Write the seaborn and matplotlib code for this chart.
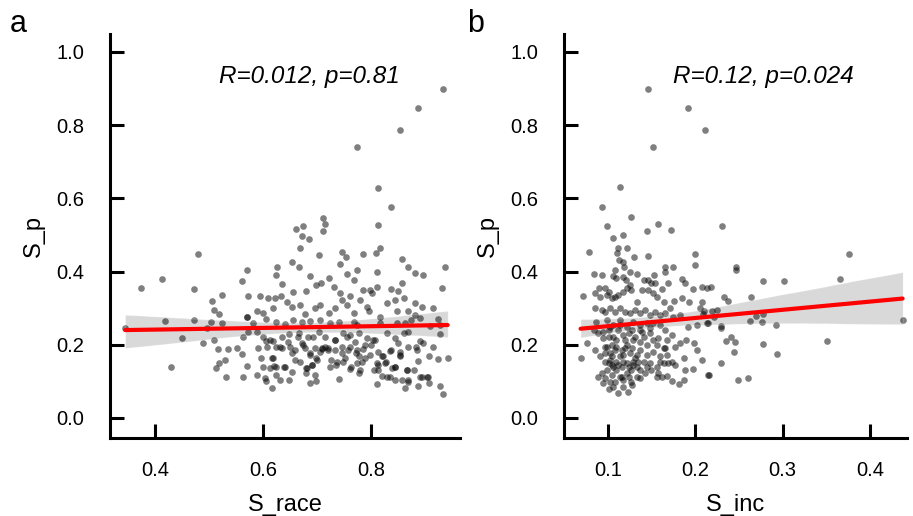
import numpy as np
import pandas as pd
import seaborn as sns
import matplotlib.pyplot as plt

# panel a: S_race vs S_p
s_race = [
    0.932, 0.886, 0.853, 0.773, 0.813, 0.837, 0.813, 0.816, 0.808, 0.785,
    0.711, 0.714, 0.711, 0.661, 0.674, 0.672, 0.685, 0.668, 0.702, 0.745,
    0.752, 0.479, 0.652, 0.742, 0.569, 0.626, 0.665, 0.773, 0.811, 0.856,
    0.868, 0.936, 0.881, 0.896, 0.413, 0.374, 0.472, 0.561, 0.624, 0.635,
    0.687, 0.707, 0.721, 0.730, 0.754, 0.768, 0.785, 0.797, 0.811, 0.837,
    0.849, 0.857, 0.930, 0.524, 0.572, 0.593, 0.609, 0.621, 0.632, 0.655,
    0.679, 0.698, 0.742, 0.760, 0.779, 0.801, 0.829, 0.844, 0.861, 0.881,
    0.893, 0.505, 0.509, 0.518, 0.569, 0.588, 0.600, 0.618, 0.643, 0.652,
    0.668, 0.677, 0.696, 0.705, 0.721, 0.733, 0.745, 0.754, 0.767, 0.791,
    0.796, 0.816, 0.847, 0.868, 0.881, 0.914, 0.924, 0.344, 0.417, 0.472,
    0.503, 0.495, 0.524, 0.570, 0.581, 0.605, 0.624, 0.640, 0.655, 0.671,
    0.686, 0.705, 0.723, 0.739, 0.767, 0.773, 0.816, 0.847, 0.862, 0.873,
    0.890, 0.908, 0.927, 0.449, 0.488, 0.509, 0.563, 0.572, 0.588, 0.600,
    0.605, 0.618, 0.634, 0.648, 0.665, 0.683, 0.702, 0.714, 0.732, 0.748,
    0.760, 0.776, 0.791, 0.806, 0.829, 0.844, 0.860, 0.868, 0.890, 0.927,
    0.516, 0.535, 0.551, 0.561, 0.590, 0.606, 0.624, 0.635, 0.649, 0.658,
    0.674, 0.686, 0.696, 0.708, 0.720, 0.732, 0.745, 0.757, 0.771, 0.785,
    0.800, 0.812, 0.822, 0.834, 0.853, 0.868, 0.882, 0.896, 0.913, 0.941,
    0.429, 0.513, 0.518, 0.529, 0.530, 0.570, 0.562, 0.595, 0.600, 0.616,
    0.612, 0.620, 0.639, 0.652, 0.668, 0.679, 0.689, 0.698, 0.705, 0.726,
    0.735, 0.748, 0.761, 0.773, 0.788, 0.804, 0.813, 0.826, 0.838, 0.844,
    0.853, 0.866, 0.878, 0.887, 0.907, 0.924, 0.589, 0.603, 0.605, 0.623,
    0.631, 0.647, 0.679, 0.686, 0.697, 0.695, 0.739, 0.777, 0.819, 0.810,
    0.834, 0.843, 0.856, 0.868, 0.862, 0.887, 0.889, 0.902, 0.907, 0.926,
    0.932, 0.615,
    # dense lower cluster
    0.618, 0.624, 0.640, 0.664, 0.671, 0.677, 0.686, 0.680, 0.689, 0.699,
    0.708, 0.714, 0.720, 0.732, 0.745, 0.751, 0.760, 0.769, 0.773, 0.776,
    0.782, 0.788, 0.797, 0.810, 0.819, 0.828, 0.837, 0.843, 0.850, 0.853,
    0.865, 0.868, 0.884, 0.893, 0.905, 0.612, 0.631, 0.646, 0.652, 0.658,
    0.723, 0.736, 0.763, 0.779, 0.813, 0.825, 0.692, 0.754, 0.803,
]
s_p_race = [
    0.899, 0.848, 0.788, 0.739, 0.629, 0.577, 0.526, 0.464, 0.451, 0.448,
    0.547, 0.530, 0.510, 0.515, 0.524, 0.498, 0.490, 0.464, 0.444, 0.454,
    0.440, 0.447, 0.427, 0.420, 0.405, 0.413, 0.413, 0.403, 0.400, 0.434,
    0.413, 0.412, 0.395, 0.390, 0.380, 0.354, 0.352, 0.374, 0.391, 0.367,
    0.388, 0.368, 0.382, 0.359, 0.393, 0.378, 0.350, 0.350, 0.359, 0.353,
    0.347, 0.368, 0.355, 0.336, 0.332, 0.334, 0.329, 0.329, 0.333, 0.343,
    0.347, 0.363, 0.341, 0.333, 0.322, 0.341, 0.313, 0.322, 0.327, 0.313,
    0.304, 0.319, 0.295, 0.283, 0.277, 0.292, 0.286, 0.300, 0.318, 0.304,
    0.309, 0.283, 0.300, 0.309, 0.286, 0.300, 0.322, 0.309, 0.286, 0.304,
    0.291, 0.277, 0.291, 0.291, 0.281, 0.300, 0.270, 0.247, 0.264, 0.268,
    0.263, 0.245, 0.259, 0.275, 0.259, 0.270, 0.263, 0.257, 0.268, 0.263,
    0.265, 0.268, 0.259, 0.263, 0.263, 0.254, 0.260, 0.259, 0.260, 0.268,
    0.272, 0.250, 0.254, 0.219, 0.206, 0.213, 0.220, 0.236, 0.236, 0.222,
    0.209, 0.211, 0.222, 0.229, 0.233, 0.222, 0.236, 0.222, 0.213, 0.231,
    0.227, 0.231, 0.218, 0.213, 0.231, 0.218, 0.231, 0.236, 0.209, 0.230,
    0.188, 0.188, 0.192, 0.174, 0.190, 0.193, 0.195, 0.190, 0.195, 0.186,
    0.199, 0.177, 0.190, 0.188, 0.190, 0.186, 0.195, 0.186, 0.177, 0.188,
    0.199, 0.181, 0.168, 0.184, 0.181, 0.195, 0.195, 0.204, 0.193, 0.165,
    0.140, 0.136, 0.151, 0.158, 0.113, 0.142, 0.113, 0.163, 0.140, 0.163,
    0.136, 0.142, 0.140, 0.127, 0.154, 0.136, 0.145, 0.163, 0.181, 0.158,
    0.145, 0.154, 0.133, 0.149, 0.163, 0.131, 0.145, 0.154, 0.136, 0.140,
    0.169, 0.131, 0.131, 0.156, 0.168, 0.160, 0.117, 0.108, 0.102, 0.117,
    0.104, 0.104, 0.124, 0.095, 0.101, 0.117, 0.106, 0.122, 0.115, 0.092,
    0.113, 0.104, 0.104, 0.097, 0.081, 0.087, 0.113, 0.113, 0.095, 0.088,
    0.065, 0.081,
    0.163, 0.140, 0.140, 0.222, 0.204, 0.190, 0.172, 0.136, 0.145, 0.158,
    0.190, 0.195, 0.186, 0.213, 0.177, 0.163, 0.195, 0.208, 0.186, 0.168,
    0.154, 0.199, 0.172, 0.149, 0.168, 0.113, 0.186, 0.140, 0.204, 0.172,
    0.131, 0.104, 0.186, 0.113, 0.113, 0.213, 0.195, 0.208, 0.177, 0.158,
    0.140, 0.154, 0.140, 0.131, 0.131, 0.149, 0.222, 0.222, 0.213,
]

# panel b: S_inc vs S_p
s_inc = [
    0.146, 0.192, 0.211, 0.152, 0.114, 0.094, 0.127, 0.099, 0.157, 0.145,
    0.172, 0.231, 0.117, 0.106, 0.112, 0.122, 0.079, 0.111, 0.113, 0.118,
    0.130, 0.146, 0.200, 0.119, 0.125, 0.108, 0.133, 0.166, 0.166, 0.175,
    0.200, 0.247, 0.247, 0.084, 0.093, 0.106, 0.153, 0.110, 0.118, 0.121,
    0.126, 0.142, 0.146, 0.150, 0.154, 0.162, 0.169, 0.185, 0.188, 0.197,
    0.208, 0.214, 0.218, 0.072, 0.085, 0.090, 0.097, 0.101, 0.091, 0.099,
    0.105, 0.108, 0.112, 0.118, 0.122, 0.127, 0.133, 0.139, 0.146, 0.152,
    0.156, 0.164, 0.171, 0.176, 0.185, 0.193, 0.206, 0.208, 0.219, 0.225,
    0.086, 0.093, 0.097, 0.103, 0.108, 0.114, 0.120, 0.126, 0.131, 0.137,
    0.143, 0.148, 0.154, 0.160, 0.166, 0.175, 0.183, 0.192, 0.202, 0.213,
    0.221, 0.069, 0.076, 0.084, 0.089, 0.095, 0.101, 0.106, 0.112, 0.118,
    0.124, 0.129, 0.137, 0.141, 0.148, 0.158, 0.166, 0.168, 0.173, 0.177,
    0.183, 0.190, 0.199, 0.202, 0.086, 0.091, 0.097, 0.103, 0.108, 0.114,
    0.120, 0.126, 0.131, 0.137, 0.145, 0.152, 0.160, 0.166, 0.173, 0.177,
    0.187, 0.188, 0.198, 0.215, 0.105, 0.110, 0.099, 0.116, 0.122, 0.127,
    0.133, 0.143, 0.156, 0.162, 0.168, 0.174, 0.181, 0.112, 0.123, 0.101,
    0.095, 0.089, 0.108, 0.118, 0.127, 0.093, 0.124, 0.137, 0.103, 0.118,
    0.129, 0.110, 0.097, 0.141, 0.148, 0.137, 0.105, 0.114, 0.156, 0.164,
    0.099, 0.114, 0.129, 0.145, 0.160, 0.087, 0.106, 0.122, 0.137, 0.152,
    0.376, 0.366, 0.277, 0.302, 0.233, 0.237, 0.264, 0.210, 0.209, 0.278,
    0.270, 0.263, 0.276, 0.292, 0.215, 0.230, 0.230, 0.437, 0.241, 0.235,
    0.246, 0.278, 0.351, 0.244, 0.293, 0.230, 0.216, 0.249, 0.260, 0.208,
    0.187,
    # dense dark cluster
    0.099, 0.105, 0.110, 0.116, 0.122, 0.128, 0.133, 0.101, 0.106, 0.112,
    0.118, 0.124, 0.129, 0.135, 0.105, 0.097, 0.137, 0.145, 0.152, 0.131,
    0.120, 0.110, 0.101, 0.095, 0.103, 0.114, 0.128, 0.139, 0.148, 0.156,
    0.164, 0.168, 0.145, 0.150, 0.133, 0.128, 0.118, 0.106, 0.097, 0.103,
    0.122, 0.116, 0.160, 0.169, 0.158,
]
s_p_inc = [
    0.899, 0.847, 0.787, 0.739, 0.630, 0.576, 0.548, 0.525, 0.531, 0.510,
    0.514, 0.525, 0.499, 0.491, 0.464, 0.464, 0.454, 0.450, 0.432, 0.427,
    0.440, 0.443, 0.448, 0.412, 0.400, 0.404, 0.394, 0.413, 0.400, 0.413,
    0.418, 0.412, 0.404, 0.394, 0.391, 0.389, 0.390, 0.382, 0.386, 0.377,
    0.363, 0.377, 0.377, 0.368, 0.368, 0.352, 0.368, 0.379, 0.368, 0.352,
    0.357, 0.354, 0.357, 0.333, 0.342, 0.354, 0.354, 0.345, 0.331, 0.336,
    0.327, 0.331, 0.336, 0.345, 0.354, 0.350, 0.318, 0.350, 0.350, 0.341,
    0.331, 0.318, 0.300, 0.320, 0.329, 0.318, 0.300, 0.318, 0.292, 0.295,
    0.300, 0.295, 0.290, 0.300, 0.290, 0.300, 0.290, 0.286, 0.295, 0.286,
    0.295, 0.281, 0.290, 0.281, 0.286, 0.275, 0.281, 0.249, 0.254, 0.259,
    0.275, 0.165, 0.204, 0.240, 0.231, 0.218, 0.240, 0.222, 0.240, 0.227,
    0.231, 0.213, 0.240, 0.222, 0.231, 0.218, 0.240, 0.213, 0.227, 0.195,
    0.204, 0.213, 0.204, 0.186, 0.186, 0.168, 0.195, 0.177, 0.186, 0.168,
    0.190, 0.177, 0.163, 0.186, 0.172, 0.181, 0.168, 0.190, 0.154, 0.145,
    0.163, 0.131, 0.133, 0.117, 0.145, 0.131, 0.131, 0.140, 0.149, 0.131,
    0.140, 0.122, 0.113, 0.113, 0.115, 0.102, 0.093, 0.067, 0.070, 0.078,
    0.096, 0.113, 0.099, 0.104, 0.099, 0.122, 0.113, 0.108, 0.158, 0.172,
    0.154, 0.154, 0.154, 0.154, 0.149, 0.131, 0.117, 0.113, 0.140, 0.149,
    0.268, 0.268, 0.263, 0.259, 0.254, 0.263, 0.254, 0.249, 0.254, 0.259,
    0.447, 0.380, 0.374, 0.374, 0.330, 0.320, 0.330, 0.291, 0.283, 0.283,
    0.279, 0.264, 0.263, 0.255, 0.260, 0.251, 0.247, 0.269, 0.222, 0.210,
    0.208, 0.202, 0.209, 0.181, 0.175, 0.151, 0.117, 0.103, 0.109, 0.158,
    0.104,
    0.195, 0.199, 0.195, 0.186, 0.199, 0.190, 0.172, 0.149, 0.140, 0.145,
    0.154, 0.140, 0.145, 0.154, 0.168, 0.177, 0.208, 0.199, 0.213, 0.222,
    0.213, 0.213, 0.222, 0.236, 0.249, 0.254, 0.240, 0.236, 0.245, 0.199,
    0.190, 0.172, 0.140, 0.131, 0.113, 0.090, 0.086, 0.086, 0.108, 0.099,
    0.122, 0.113, 0.154, 0.149, 0.122,
]

y_ticks = [0.0, 0.2, 0.4, 0.6, 0.8, 1.0]
race_ticks = [0.4, 0.6, 0.8]
inc_ticks = [0.1, 0.2, 0.3, 0.4]
stats_race = "R=0.012, p=0.81"
stats_inc = "R=0.12, p=0.024"

sns.set_style("ticks")
plt.rcParams["font.family"] = ["Liberation Sans", "DejaVu Sans"]
plt.rcParams["text.color"] = "black"
plt.rcParams["axes.labelcolor"] = "black"

fig = plt.figure(figsize=(9.13, 5.16), dpi=100)
ax_a = fig.add_axes([0.1205, 0.1512, 0.3834, 0.7829])
ax_b = fig.add_axes([0.6177, 0.1512, 0.3757, 0.7829])


def panel(ax, x, y, xlabel, xticks, xlim, stats, stats_x):
    df = pd.DataFrame({"x": x, "y": y})
    # points + grey confidence band (line itself hidden)
    sns.regplot(data=df, x="x", y="y", ax=ax, color="black", seed=0,
                scatter_kws={"s": 23, "alpha": 0.5, "linewidths": 0},
                line_kws={"linewidth": 0})
    # red fitted line
    sns.regplot(data=df, x="x", y="y", ax=ax, scatter=False, ci=None,
                line_kws={"color": "red", "linewidth": 3})

    ax.set_xlim(*xlim)
    ax.set_ylim(-0.0546, 1.049)
    ax.set_xticks(xticks)
    ax.set_xticklabels([f"{t:.1f}" for t in xticks])
    ax.set_yticks(y_ticks)
    ax.set_yticklabels([f"{t:.1f}" for t in y_ticks])
    ax.set_xlabel(xlabel, fontsize=17, labelpad=10)
    ax.set_ylabel("S_p", fontsize=17, labelpad=8)

    for side in ["top", "right"]:
        ax.spines[side].set_visible(False)
    for side in ["left", "bottom"]:
        ax.spines[side].set_linewidth(2.2)
        ax.spines[side].set_color("black")
    ax.tick_params(axis="both", direction="in", length=10, width=2.2,
                   color="black", labelsize=14.5, labelcolor="black")
    ax.tick_params(axis="x", pad=16.5)
    ax.tick_params(axis="y", pad=18.5)

    ax.text(stats_x, 0.915, stats, style="italic", fontsize=17.5,
            color="black", ha="center", va="baseline")


panel(ax_a, s_race, s_p_race, "S_race", race_ticks, (0.316, 0.964), stats_race, 0.685)
panel(ax_b, s_inc, s_p_inc, "S_inc", inc_ticks, (0.05, 0.442), stats_inc, 0.278)

fig.text(10 / 913, 1 - 32 / 516, "a", fontsize=22, color="black", va="baseline")
fig.text(467 / 913, 1 - 32 / 516, "b", fontsize=22, color="black", va="baseline")

fig.savefig("out.png", dpi=100)
